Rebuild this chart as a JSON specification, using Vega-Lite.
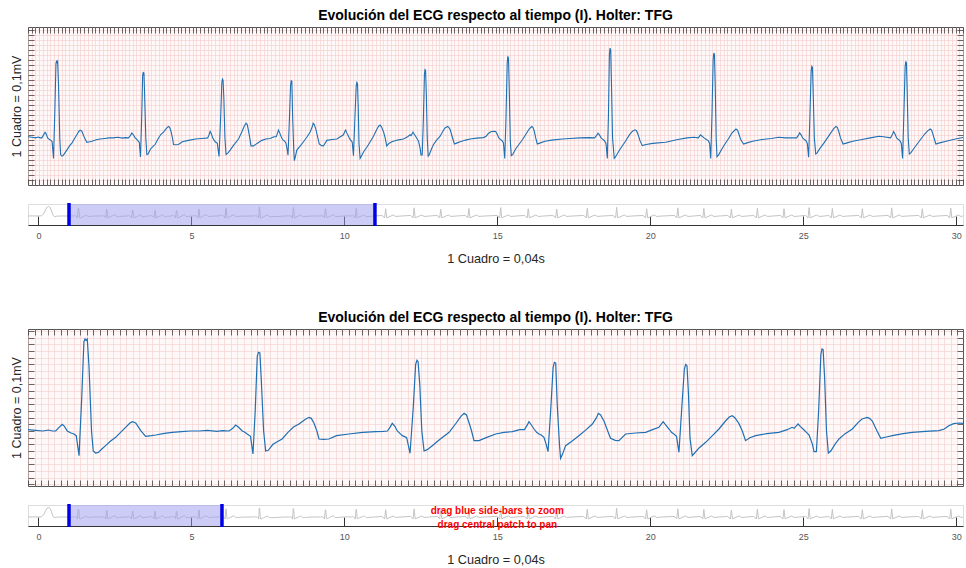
{
"$schema": "https://vega.github.io/schema/vega-lite/v6.json",
"padding": {"left": 10, "top": 8, "right": 0, "bottom": 0},
"config": {"font": "Liberation Sans"},
"datasets": {
"ecg": [
{"t":-340,"v":0.0},{"t":-200,"v":0.02},{"t":0,"v":0.0},{"t":100,"v":0.05},{"t":180,"v":0.45},{"t":240,"v":1.2},{"t":290,"v":1.6},{"t":330,"v":1.7},{"t":380,"v":1.55},{"t":430,"v":0.9},{"t":470,"v":0.2},{"t":520,"v":-0.12},{"t":600,"v":-0.03},{"t":700,"v":0.0},{"t":800,"v":0.01},{"t":900,"v":-0.01},{"t":1000,"v":0.02},
{"t":1040,"v":0.01},{"t":1080,"v":0.0},{"t":1110,"v":0.015},{"t":1130,"v":0.0},{"t":1148,"v":0.0},{"t":1165,"v":0.05},{"t":1183,"v":0.10},{"t":1195,"v":0.07},{"t":1210,"v":0.0},{"t":1230,"v":-0.03},{"t":1246,"v":-0.045},{"t":1258,"v":-0.07},{"t":1273,"v":-0.37},{"t":1287,"v":0.48},{"t":1299,"v":1.34},{"t":1305,"v":1.38},{"t":1311,"v":1.36},{"t":1317,"v":1.38},{"t":1326,"v":0.98},{"t":1340,"v":-0.015},{"t":1349,"v":-0.30},{"t":1362,"v":-0.33},{"t":1376,"v":-0.32},{"t":1395,"v":-0.27},{"t":1415,"v":-0.22},{"t":1442,"v":-0.15},{"t":1469,"v":-0.095},{"t":1495,"v":-0.02},{"t":1522,"v":0.055},{"t":1545,"v":0.12},{"t":1558,"v":0.14},{"t":1576,"v":0.12},{"t":1603,"v":0.005},{"t":1629,"v":-0.08},{"t":1660,"v":-0.07},{"t":1683,"v":-0.06},{"t":1730,"v":-0.035},{"t":1771,"v":-0.02},{"t":1820,"v":-0.01},{"t":1870,"v":0.0},{"t":1914,"v":0.0},{"t":1960,"v":0.01},{"t":2010,"v":-0.005},{"t":2040,"v":0.005},
{"t":2075,"v":0.0},{"t":2095,"v":0.04},{"t":2110,"v":0.09},{"t":2125,"v":0.06},{"t":2146,"v":0.0},{"t":2160,"v":-0.02},{"t":2172,"v":-0.045},{"t":2190,"v":-0.08},{"t":2203,"v":-0.345},{"t":2215,"v":0.3},{"t":2226,"v":1.12},{"t":2232,"v":1.18},{"t":2240,"v":1.17},{"t":2247,"v":0.8},{"t":2260,"v":0.0},{"t":2271,"v":-0.30},{"t":2285,"v":-0.29},{"t":2310,"v":-0.2},{"t":2340,"v":-0.15},{"t":2359,"v":-0.12},{"t":2390,"v":-0.02},{"t":2420,"v":0.06},{"t":2449,"v":0.105},{"t":2480,"v":0.17},{"t":2502,"v":0.205},{"t":2515,"v":0.19},{"t":2529,"v":0.12},{"t":2545,"v":0.0},{"t":2556,"v":-0.12},{"t":2580,"v":-0.125},{"t":2609,"v":-0.12},{"t":2650,"v":-0.07},{"t":2716,"v":-0.045},{"t":2790,"v":-0.02},{"t":2858,"v":-0.01},{"t":2900,"v":-0.005},
{"t":2922,"v":0.0},{"t":2935,"v":0.05},{"t":2948,"v":0.115},{"t":2962,"v":0.07},{"t":2975,"v":0.0},{"t":2990,"v":-0.04},{"t":3002,"v":-0.07},{"t":3025,"v":-0.1},{"t":3043,"v":-0.335},{"t":3060,"v":0.35},{"t":3073,"v":1.0},{"t":3080,"v":1.06},{"t":3086,"v":1.04},{"t":3095,"v":0.7},{"t":3106,"v":0.0},{"t":3118,"v":-0.30},{"t":3135,"v":-0.28},{"t":3162,"v":-0.22},{"t":3200,"v":-0.13},{"t":3252,"v":-0.02},{"t":3290,"v":0.12},{"t":3315,"v":0.22},{"t":3332,"v":0.265},{"t":3345,"v":0.24},{"t":3359,"v":0.12},{"t":3372,"v":0.0},{"t":3385,"v":-0.145},{"t":3412,"v":-0.145},{"t":3450,"v":-0.1},{"t":3501,"v":-0.045},{"t":3545,"v":-0.02},{"t":3590,"v":-0.01},{"t":3630,"v":0.02},{"t":3655,"v":0.02},
{"t":3668,"v":0.08},{"t":3679,"v":0.14},{"t":3692,"v":0.09},{"t":3706,"v":0.03},{"t":3720,"v":-0.02},{"t":3732,"v":-0.045},{"t":3745,"v":-0.06},{"t":3759,"v":-0.095},{"t":3771,"v":-0.2},{"t":3781,"v":-0.31},{"t":3795,"v":0.3},{"t":3808,"v":0.95},{"t":3815,"v":1.03},{"t":3822,"v":1.02},{"t":3830,"v":0.4},{"t":3842,"v":-0.2},{"t":3848,"v":-0.41},{"t":3858,"v":-0.35},{"t":3875,"v":-0.22},{"t":3910,"v":-0.15},{"t":3946,"v":-0.07},{"t":3985,"v":0.02},{"t":4018,"v":0.105},{"t":4040,"v":0.2},{"t":4050,"v":0.265},{"t":4062,"v":0.24},{"t":4080,"v":0.15},{"t":4100,"v":0.0},{"t":4115,"v":-0.11},{"t":4140,"v":-0.14},{"t":4160,"v":-0.145},{"t":4196,"v":-0.045},{"t":4250,"v":-0.03},{"t":4303,"v":-0.02},{"t":4340,"v":0.02},{"t":4374,"v":0.055},
{"t":4385,"v":0.1},{"t":4397,"v":0.14},{"t":4410,"v":0.09},{"t":4428,"v":0.03},{"t":4441,"v":-0.02},{"t":4454,"v":-0.045},{"t":4468,"v":-0.08},{"t":4481,"v":-0.32},{"t":4495,"v":0.3},{"t":4510,"v":0.93},{"t":4517,"v":1.0},{"t":4524,"v":0.98},{"t":4532,"v":0.55},{"t":4540,"v":-0.1},{"t":4552,"v":-0.37},{"t":4565,"v":-0.33},{"t":4590,"v":-0.25},{"t":4624,"v":-0.17},{"t":4660,"v":-0.07},{"t":4695,"v":0.03},{"t":4730,"v":0.15},{"t":4750,"v":0.21},{"t":4766,"v":0.23},{"t":4780,"v":0.2},{"t":4802,"v":0.11},{"t":4820,"v":0.0},{"t":4837,"v":-0.145},{"t":4860,"v":-0.1},{"t":4891,"v":-0.07},{"t":4950,"v":-0.04},{"t":5015,"v":-0.02},{"t":5060,"v":0.02},{"t":5086,"v":0.055},
{"t":5097,"v":0.04},{"t":5110,"v":0.08},{"t":5118,"v":0.105},{"t":5130,"v":0.07},{"t":5150,"v":0.015},{"t":5163,"v":-0.02},{"t":5177,"v":-0.06},{"t":5195,"v":-0.2},{"t":5203,"v":-0.31},{"t":5216,"v":-0.31},{"t":5228,"v":0.3},{"t":5240,"v":1.15},{"t":5246,"v":1.23},{"t":5252,"v":1.22},{"t":5260,"v":0.8},{"t":5270,"v":0.0},{"t":5280,"v":-0.33},{"t":5293,"v":-0.3},{"t":5315,"v":-0.2},{"t":5337,"v":-0.12},{"t":5370,"v":-0.04},{"t":5408,"v":0.03},{"t":5440,"v":0.13},{"t":5460,"v":0.18},{"t":5488,"v":0.205},{"t":5500,"v":0.19},{"t":5515,"v":0.15},{"t":5537,"v":0.02},{"t":5560,"v":-0.11},{"t":5590,"v":-0.09},{"t":5622,"v":-0.07},{"t":5680,"v":-0.04},{"t":5728,"v":-0.02},{"t":5800,"v":-0.005},{"t":5871,"v":0.005},{"t":5900,"v":0.03},{"t":5924,"v":0.08},{"t":5950,"v":0.11},{"t":5978,"v":0.12},
{"t":6002,"v":0.115},{"t":6020,"v":0.06},{"t":6035,"v":0.0},{"t":6055,"v":-0.03},{"t":6070,"v":-0.05},{"t":6085,"v":-0.09},{"t":6099,"v":-0.37},{"t":6112,"v":0.35},{"t":6125,"v":1.35},{"t":6132,"v":1.47},{"t":6139,"v":1.44},{"t":6147,"v":0.9},{"t":6158,"v":-0.05},{"t":6169,"v":-0.32},{"t":6185,"v":-0.3},{"t":6215,"v":-0.2},{"t":6250,"v":-0.12},{"t":6290,"v":-0.03},{"t":6330,"v":0.08},{"t":6360,"v":0.16},{"t":6387,"v":0.205},{"t":6400,"v":0.19},{"t":6415,"v":0.12},{"t":6430,"v":0.0},{"t":6447,"v":-0.11},{"t":6480,"v":-0.09},{"t":6530,"v":-0.06},{"t":6600,"v":-0.04},{"t":6714,"v":-0.02},{"t":6800,"v":-0.01},{"t":6900,"v":0.0},{"t":7000,"v":0.005},
{"t":7060,"v":0.0},{"t":7080,"v":0.04},{"t":7097,"v":0.085},{"t":7113,"v":0.05},{"t":7130,"v":0.0},{"t":7150,"v":-0.03},{"t":7165,"v":-0.05},{"t":7182,"v":-0.1},{"t":7196,"v":-0.37},{"t":7208,"v":0.4},{"t":7218,"v":1.5},{"t":7225,"v":1.62},{"t":7232,"v":1.58},{"t":7240,"v":1.0},{"t":7252,"v":0.0},{"t":7270,"v":-0.37},{"t":7285,"v":-0.34},{"t":7315,"v":-0.25},{"t":7350,"v":-0.16},{"t":7390,"v":-0.06},{"t":7430,"v":0.05},{"t":7465,"v":0.12},{"t":7492,"v":0.145},{"t":7508,"v":0.13},{"t":7525,"v":0.06},{"t":7545,"v":-0.05},{"t":7570,"v":-0.14},{"t":7610,"v":-0.12},{"t":7680,"v":-0.1},{"t":7820,"v":-0.08},{"t":7950,"v":-0.03},{"t":8050,"v":0.0},{"t":8120,"v":0.01},
{"t":8170,"v":0.0},{"t":8191,"v":0.055},{"t":8210,"v":0.03},{"t":8230,"v":0.0},{"t":8255,"v":-0.03},{"t":8275,"v":-0.05},{"t":8290,"v":-0.1},{"t":8302,"v":-0.37},{"t":8315,"v":0.4},{"t":8328,"v":1.42},{"t":8335,"v":1.53},{"t":8342,"v":1.5},{"t":8350,"v":0.95},{"t":8360,"v":0.0},{"t":8369,"v":-0.34},{"t":8385,"v":-0.31},{"t":8415,"v":-0.22},{"t":8450,"v":-0.12},{"t":8490,"v":-0.02},{"t":8530,"v":0.09},{"t":8572,"v":0.16},{"t":8588,"v":0.14},{"t":8605,"v":0.06},{"t":8625,"v":-0.04},{"t":8654,"v":-0.11},{"t":8690,"v":-0.09},{"t":8750,"v":-0.06},{"t":8850,"v":-0.03},{"t":8950,"v":-0.01},{"t":9030,"v":0.01},{"t":9100,"v":0.0},
{"t":9220,"v":0.0},{"t":9237,"v":0.04},{"t":9253,"v":0.09},{"t":9270,"v":0.05},{"t":9285,"v":0.0},{"t":9305,"v":-0.03},{"t":9320,"v":-0.05},{"t":9335,"v":-0.1},{"t":9349,"v":-0.35},{"t":9362,"v":0.35},{"t":9376,"v":1.2},{"t":9383,"v":1.29},{"t":9390,"v":1.27},{"t":9398,"v":0.8},{"t":9410,"v":0.0},{"t":9425,"v":-0.29},{"t":9440,"v":-0.27},{"t":9470,"v":-0.19},{"t":9510,"v":-0.1},{"t":9550,"v":0.0},{"t":9590,"v":0.1},{"t":9620,"v":0.17},{"t":9642,"v":0.205},{"t":9656,"v":0.19},{"t":9672,"v":0.11},{"t":9690,"v":0.0},{"t":9717,"v":-0.11},{"t":9760,"v":-0.09},{"t":9820,"v":-0.06},{"t":9920,"v":-0.03},{"t":10010,"v":0.0},{"t":10100,"v":0.03},{"t":10150,"v":0.02},
{"t":10225,"v":0.0},{"t":10242,"v":0.05},{"t":10258,"v":0.115},{"t":10275,"v":0.06},{"t":10290,"v":0.0},{"t":10310,"v":-0.03},{"t":10325,"v":-0.05},{"t":10340,"v":-0.1},{"t":10354,"v":-0.37},{"t":10367,"v":0.4},{"t":10381,"v":1.28},{"t":10388,"v":1.38},{"t":10395,"v":1.35},{"t":10403,"v":0.85},{"t":10414,"v":0.0},{"t":10426,"v":-0.29},{"t":10442,"v":-0.27},{"t":10470,"v":-0.2},{"t":10510,"v":-0.11},{"t":10550,"v":-0.02},{"t":10590,"v":0.07},{"t":10625,"v":0.13},{"t":10650,"v":0.16},{"t":10664,"v":0.14},{"t":10680,"v":0.06},{"t":10695,"v":-0.03},{"t":10710,"v":-0.11},{"t":10750,"v":-0.09},{"t":10820,"v":-0.06},{"t":10920,"v":-0.02},{"t":11010,"v":0.01},
{"t":11225,"v":0.1},{"t":11260,"v":0.0},{"t":11315,"v":-0.35},{"t":11350,"v":1.3},{"t":11385,"v":-0.32},{"t":11600,"v":0.18},{"t":11680,"v":-0.08},{"t":11850,"v":0.0},
{"t":12155,"v":0.1},{"t":12190,"v":0.0},{"t":12245,"v":-0.35},{"t":12280,"v":1.45},{"t":12315,"v":-0.32},{"t":12530,"v":0.18},{"t":12610,"v":-0.08},{"t":12780,"v":0.0},
{"t":13025,"v":0.1},{"t":13060,"v":0.0},{"t":13115,"v":-0.35},{"t":13150,"v":1.2},{"t":13185,"v":-0.32},{"t":13400,"v":0.18},{"t":13480,"v":-0.08},{"t":13650,"v":0.0},
{"t":13945,"v":0.1},{"t":13980,"v":0.0},{"t":14035,"v":-0.35},{"t":14070,"v":1.35},{"t":14105,"v":-0.32},{"t":14320,"v":0.18},{"t":14400,"v":-0.08},{"t":14570,"v":0.0},
{"t":14985,"v":0.1},{"t":15020,"v":0.0},{"t":15075,"v":-0.35},{"t":15110,"v":1.5},{"t":15145,"v":-0.32},{"t":15360,"v":0.18},{"t":15440,"v":-0.08},{"t":15610,"v":0.0},
{"t":15885,"v":0.1},{"t":15920,"v":0.0},{"t":15975,"v":-0.35},{"t":16010,"v":1.3},{"t":16045,"v":-0.32},{"t":16260,"v":0.18},{"t":16340,"v":-0.08},{"t":16510,"v":0.0},
{"t":16815,"v":0.1},{"t":16850,"v":0.0},{"t":16905,"v":-0.35},{"t":16940,"v":1.25},{"t":16975,"v":-0.32},{"t":17190,"v":0.18},{"t":17270,"v":-0.08},{"t":17440,"v":0.0},
{"t":17815,"v":0.1},{"t":17850,"v":0.0},{"t":17905,"v":-0.35},{"t":17940,"v":1.4},{"t":17975,"v":-0.32},{"t":18190,"v":0.18},{"t":18270,"v":-0.08},{"t":18440,"v":0.0},
{"t":18775,"v":0.1},{"t":18810,"v":0.0},{"t":18865,"v":-0.35},{"t":18900,"v":1.55},{"t":18935,"v":-0.32},{"t":19150,"v":0.18},{"t":19230,"v":-0.08},{"t":19400,"v":0.0},
{"t":19755,"v":0.1},{"t":19790,"v":0.0},{"t":19845,"v":-0.35},{"t":19880,"v":1.3},{"t":19915,"v":-0.32},{"t":20130,"v":0.18},{"t":20210,"v":-0.08},{"t":20380,"v":0.0},
{"t":20775,"v":0.1},{"t":20810,"v":0.0},{"t":20865,"v":-0.35},{"t":20900,"v":1.45},{"t":20935,"v":-0.32},{"t":21150,"v":0.18},{"t":21230,"v":-0.08},{"t":21400,"v":0.0},
{"t":21625,"v":0.1},{"t":21660,"v":0.0},{"t":21715,"v":-0.35},{"t":21750,"v":1.35},{"t":21785,"v":-0.32},{"t":22000,"v":0.18},{"t":22080,"v":-0.08},{"t":22250,"v":0.0},
{"t":22525,"v":0.1},{"t":22560,"v":0.0},{"t":22615,"v":-0.35},{"t":22650,"v":1.25},{"t":22685,"v":-0.32},{"t":22900,"v":0.18},{"t":22980,"v":-0.08},{"t":23150,"v":0.0},
{"t":23375,"v":0.1},{"t":23410,"v":0.0},{"t":23465,"v":-0.35},{"t":23500,"v":1.4},{"t":23535,"v":-0.32},{"t":23750,"v":0.18},{"t":23830,"v":-0.08},{"t":24000,"v":0.0},
{"t":24245,"v":0.1},{"t":24280,"v":0.0},{"t":24335,"v":-0.35},{"t":24370,"v":1.3},{"t":24405,"v":-0.32},{"t":24620,"v":0.18},{"t":24700,"v":-0.08},{"t":24870,"v":0.0},
{"t":25065,"v":0.1},{"t":25100,"v":0.0},{"t":25155,"v":-0.35},{"t":25190,"v":1.5},{"t":25225,"v":-0.32},{"t":25440,"v":0.18},{"t":25520,"v":-0.08},{"t":25690,"v":0.0},
{"t":25825,"v":0.1},{"t":25860,"v":0.0},{"t":25915,"v":-0.35},{"t":25950,"v":1.35},{"t":25985,"v":-0.32},{"t":26200,"v":0.18},{"t":26280,"v":-0.08},{"t":26450,"v":0.0},
{"t":26805,"v":0.1},{"t":26840,"v":0.0},{"t":26895,"v":-0.35},{"t":26930,"v":1.3},{"t":26965,"v":-0.32},{"t":27180,"v":0.18},{"t":27260,"v":-0.08},{"t":27430,"v":0.0},
{"t":27765,"v":0.1},{"t":27800,"v":0.0},{"t":27855,"v":-0.35},{"t":27890,"v":1.45},{"t":27925,"v":-0.32},{"t":28140,"v":0.18},{"t":28220,"v":-0.08},{"t":28390,"v":0.0},
{"t":28765,"v":0.1},{"t":28800,"v":0.0},{"t":28855,"v":-0.35},{"t":28890,"v":1.3},{"t":28925,"v":-0.32},{"t":29140,"v":0.18},{"t":29220,"v":-0.08},{"t":29390,"v":0.0},
{"t":29695,"v":0.1},{"t":29730,"v":0.0},{"t":29785,"v":-0.35},{"t":29820,"v":1.4},{"t":29855,"v":-0.32},{"t":30070,"v":0.18},{"t":30150,"v":-0.08},{"t":30220,"v":0.0}
],
"selTop": [{"a": 1000, "b": 11000}],
"selBot": [{"a": 1000, "b": 6000}],
"hint": [{"label": "hint"}]
},
"spacing": 44,
"vconcat": [
{"spacing": 14, "vconcat": [
 {"width": 935, "height": 158,
  "title": {"text": "Evolución del ECG respecto al tiempo (I). Holter: TFG", "fontSize": 14, "fontWeight": "bold", "color": "#000000", "offset": 4, "anchor": "middle"},
  "view": {"fill": "#fff8f8", "stroke": "#555555"},
  "data": {"name": "ecg"},
  "layer": [
   {"mark": {"type": "line", "color": "#1f6fb3", "strokeWidth": 1.1, "clip": true},
    "encoding": {
     "x": {"field": "t", "type": "quantitative", "scale": {"domain": [1000, 11000], "nice": false, "zero": false},
      "axis": {"orient": "bottom", "title": null, "labels": false, "domain": false, "values": [1000,1040,1080,1120,1160,1200,1240,1280,1320,1360,1400,1440,1480,1520,1560,1600,1640,1680,1720,1760,1800,1840,1880,1920,1960,2000,2040,2080,2120,2160,2200,2240,2280,2320,2360,2400,2440,2480,2520,2560,2600,2640,2680,2720,2760,2800,2840,2880,2920,2960,3000,3040,3080,3120,3160,3200,3240,3280,3320,3360,3400,3440,3480,3520,3560,3600,3640,3680,3720,3760,3800,3840,3880,3920,3960,4000,4040,4080,4120,4160,4200,4240,4280,4320,4360,4400,4440,4480,4520,4560,4600,4640,4680,4720,4760,4800,4840,4880,4920,4960,5000,5040,5080,5120,5160,5200,5240,5280,5320,5360,5400,5440,5480,5520,5560,5600,5640,5680,5720,5760,5800,5840,5880,5920,5960,6000,6040,6080,6120,6160,6200,6240,6280,6320,6360,6400,6440,6480,6520,6560,6600,6640,6680,6720,6760,6800,6840,6880,6920,6960,7000,7040,7080,7120,7160,7200,7240,7280,7320,7360,7400,7440,7480,7520,7560,7600,7640,7680,7720,7760,7800,7840,7880,7920,7960,8000,8040,8080,8120,8160,8200,8240,8280,8320,8360,8400,8440,8480,8520,8560,8600,8640,8680,8720,8760,8800,8840,8880,8920,8960,9000,9040,9080,9120,9160,9200,9240,9280,9320,9360,9400,9440,9480,9520,9560,9600,9640,9680,9720,9760,9800,9840,9880,9920,9960,10000,10040,10080,10120,10160,10200,10240,10280,10320,10360,10400,10440,10480,10520,10560,10600,10640,10680,10720,10760,10800,10840,10880,10920,10960,11000], "tickSize": -6, "tickColor": "#444444", "tickWidth": 0.8, "grid": true, "gridColor": "#f5cccc", "gridWidth": 0.6}},
     "y": {"field": "v", "type": "quantitative", "scale": {"domain": [-0.85, 2.0], "nice": false, "zero": false},
      "axis": {"orient": "left", "title": "1 Cuadro = 0,1mV", "titleFontSize": 12.5, "titleFontWeight": "normal", "titleColor": "#262626", "titlePadding": 4, "labels": false, "domain": false, "values": [-0.76,-0.67,-0.58,-0.49,-0.4,-0.31,-0.22,-0.13,-0.04,0.05,0.14,0.23,0.32,0.41,0.5,0.59,0.68,0.77,0.86,0.95,1.04,1.13,1.22,1.31,1.4,1.49,1.58,1.67,1.76,1.85,1.94], "tickSize": -6, "tickColor": "#444444", "tickWidth": 0.8, "grid": true, "gridColor": "#f5cccc", "gridWidth": 0.6}}
    }},
   {"mark": {"type": "line", "strokeOpacity": 0, "clip": true},
    "encoding": {
     "x": {"field": "t", "type": "quantitative",
      "axis": {"orient": "top", "title": null, "labels": false, "domain": false, "values": [1000,1040,1080,1120,1160,1200,1240,1280,1320,1360,1400,1440,1480,1520,1560,1600,1640,1680,1720,1760,1800,1840,1880,1920,1960,2000,2040,2080,2120,2160,2200,2240,2280,2320,2360,2400,2440,2480,2520,2560,2600,2640,2680,2720,2760,2800,2840,2880,2920,2960,3000,3040,3080,3120,3160,3200,3240,3280,3320,3360,3400,3440,3480,3520,3560,3600,3640,3680,3720,3760,3800,3840,3880,3920,3960,4000,4040,4080,4120,4160,4200,4240,4280,4320,4360,4400,4440,4480,4520,4560,4600,4640,4680,4720,4760,4800,4840,4880,4920,4960,5000,5040,5080,5120,5160,5200,5240,5280,5320,5360,5400,5440,5480,5520,5560,5600,5640,5680,5720,5760,5800,5840,5880,5920,5960,6000,6040,6080,6120,6160,6200,6240,6280,6320,6360,6400,6440,6480,6520,6560,6600,6640,6680,6720,6760,6800,6840,6880,6920,6960,7000,7040,7080,7120,7160,7200,7240,7280,7320,7360,7400,7440,7480,7520,7560,7600,7640,7680,7720,7760,7800,7840,7880,7920,7960,8000,8040,8080,8120,8160,8200,8240,8280,8320,8360,8400,8440,8480,8520,8560,8600,8640,8680,8720,8760,8800,8840,8880,8920,8960,9000,9040,9080,9120,9160,9200,9240,9280,9320,9360,9400,9440,9480,9520,9560,9600,9640,9680,9720,9760,9800,9840,9880,9920,9960,10000,10040,10080,10120,10160,10200,10240,10280,10320,10360,10400,10440,10480,10520,10560,10600,10640,10680,10720,10760,10800,10840,10880,10920,10960,11000], "tickSize": -6, "tickColor": "#444444", "tickWidth": 0.8, "grid": false}},
     "y": {"field": "v", "type": "quantitative",
      "axis": {"orient": "right", "title": null, "labels": false, "domain": false, "values": [-0.76,-0.67,-0.58,-0.49,-0.4,-0.31,-0.22,-0.13,-0.04,0.05,0.14,0.23,0.32,0.41,0.5,0.59,0.68,0.77,0.86,0.95,1.04,1.13,1.22,1.31,1.4,1.49,1.58,1.67,1.76,1.85,1.94], "tickSize": -6, "tickColor": "#444444", "tickWidth": 0.8, "grid": false}}
    }}
  ],
  "resolve": {"axis": {"x": "independent", "y": "independent"}}
 },
 {"width": 935, "height": 21,
  "view": {"stroke": "#dddddd"},
  "encoding": {
   "x": {"type": "quantitative", "scale": {"domain": [-340, 30220], "nice": false, "zero": false},
    "axis": {"title": "1 Cuadro = 0,04s", "titleFontSize": 12.7, "titleFontWeight": "normal", "titleColor": "#262626", "titlePadding": 12, "values": [0,5000,10000,15000,20000,25000,30000], "labelExpr": "format(datum.value/1000, 'd')", "labelFontSize": 9, "labelColor": "#555555", "labelPadding": 15, "labelFlush": false, "tickSize": -9, "tickColor": "#333333", "tickWidth": 1, "domainColor": "#333333", "domainWidth": 1.2, "grid": false}}
  },
  "layer": [
   {"data": {"name": "ecg"}, "mark": {"type": "line", "color": "#c4c4c4", "strokeWidth": 1, "clip": true},
    "encoding": {
     "x": {"field": "t"},
     "y": {"field": "v", "type": "quantitative", "scale": {"domain": [-1.6, 2.14], "nice": false, "zero": false}, "axis": null}
    }},
   {"data": {"name": "selTop"}, "mark": {"type": "rect", "color": "#9a9af0", "opacity": 0.5},
    "encoding": {"x": {"field": "a"}, "x2": {"field": "b"}}},
   {"data": {"name": "selTop"}, "mark": {"type": "rule", "color": "#0000e6", "strokeWidth": 3.5},
    "encoding": {"x": {"field": "a"}, "y": {"datum": 2.32}, "y2": {"datum": -1.78}}},
   {"data": {"name": "selTop"}, "mark": {"type": "rule", "color": "#0000e6", "strokeWidth": 3.5},
    "encoding": {"x": {"field": "b"}, "y": {"datum": 2.32}, "y2": {"datum": -1.78}}}
  ]
 }
]},
{"spacing": 14, "vconcat": [
 {"width": 935, "height": 157,
  "title": {"text": "Evolución del ECG respecto al tiempo (I). Holter: TFG", "fontSize": 14, "fontWeight": "bold", "color": "#000000", "offset": 4, "anchor": "middle"},
  "view": {"fill": "#fff8f8", "stroke": "#555555"},
  "data": {"name": "ecg"},
  "layer": [
   {"mark": {"type": "line", "color": "#1f6fb3", "strokeWidth": 1.2, "clip": true},
    "encoding": {
     "x": {"field": "t", "type": "quantitative", "scale": {"domain": [1000, 6000], "nice": false, "zero": false},
      "axis": {"orient": "bottom", "title": null, "labels": false, "domain": false, "values": [1000,1035,1070,1105,1140,1175,1210,1245,1280,1315,1350,1385,1420,1455,1490,1525,1560,1595,1630,1665,1700,1735,1770,1805,1840,1875,1910,1945,1980,2015,2050,2085,2120,2155,2190,2225,2260,2295,2330,2365,2400,2435,2470,2505,2540,2575,2610,2645,2680,2715,2750,2785,2820,2855,2890,2925,2960,2995,3030,3065,3100,3135,3170,3205,3240,3275,3310,3345,3380,3415,3450,3485,3520,3555,3590,3625,3660,3695,3730,3765,3800,3835,3870,3905,3940,3975,4010,4045,4080,4115,4150,4185,4220,4255,4290,4325,4360,4395,4430,4465,4500,4535,4570,4605,4640,4675,4710,4745,4780,4815,4850,4885,4920,4955,4990,5025,5060,5095,5130,5165,5200,5235,5270,5305,5340,5375,5410,5445,5480,5515,5550,5585,5620,5655,5690,5725,5760,5795,5830,5865,5900,5935,5970], "tickSize": -6, "tickColor": "#444444", "tickWidth": 0.8, "grid": true, "gridColor": "#f5cccc", "gridWidth": 0.6}},
     "y": {"field": "v", "type": "quantitative", "scale": {"domain": [-0.825, 1.53], "nice": false, "zero": false},
      "axis": {"orient": "left", "title": "1 Cuadro = 0,1mV", "titleFontSize": 12.5, "titleFontWeight": "normal", "titleColor": "#262626", "titlePadding": 4, "labels": false, "domain": false, "values": [-0.8,-0.7,-0.6,-0.5,-0.4,-0.3,-0.2,-0.1,0,0.1,0.2,0.3,0.4,0.5,0.6,0.7,0.8,0.9,1.0,1.1,1.2,1.3,1.4,1.5], "tickSize": -6, "tickColor": "#444444", "tickWidth": 0.8, "grid": true, "gridColor": "#f5cccc", "gridWidth": 0.6}}
    }},
   {"mark": {"type": "line", "strokeOpacity": 0, "clip": true},
    "encoding": {
     "x": {"field": "t", "type": "quantitative",
      "axis": {"orient": "top", "title": null, "labels": false, "domain": false, "values": [1000,1035,1070,1105,1140,1175,1210,1245,1280,1315,1350,1385,1420,1455,1490,1525,1560,1595,1630,1665,1700,1735,1770,1805,1840,1875,1910,1945,1980,2015,2050,2085,2120,2155,2190,2225,2260,2295,2330,2365,2400,2435,2470,2505,2540,2575,2610,2645,2680,2715,2750,2785,2820,2855,2890,2925,2960,2995,3030,3065,3100,3135,3170,3205,3240,3275,3310,3345,3380,3415,3450,3485,3520,3555,3590,3625,3660,3695,3730,3765,3800,3835,3870,3905,3940,3975,4010,4045,4080,4115,4150,4185,4220,4255,4290,4325,4360,4395,4430,4465,4500,4535,4570,4605,4640,4675,4710,4745,4780,4815,4850,4885,4920,4955,4990,5025,5060,5095,5130,5165,5200,5235,5270,5305,5340,5375,5410,5445,5480,5515,5550,5585,5620,5655,5690,5725,5760,5795,5830,5865,5900,5935,5970], "tickSize": -6, "tickColor": "#444444", "tickWidth": 0.8, "grid": false}},
     "y": {"field": "v", "type": "quantitative",
      "axis": {"orient": "right", "title": null, "labels": false, "domain": false, "values": [-0.8,-0.7,-0.6,-0.5,-0.4,-0.3,-0.2,-0.1,0,0.1,0.2,0.3,0.4,0.5,0.6,0.7,0.8,0.9,1.0,1.1,1.2,1.3,1.4,1.5], "tickSize": -6, "tickColor": "#444444", "tickWidth": 0.8, "grid": false}}
    }}
  ],
  "resolve": {"axis": {"x": "independent", "y": "independent"}}
 },
 {"width": 935, "height": 21,
  "view": {"stroke": "#dddddd"},
  "encoding": {
   "x": {"type": "quantitative", "scale": {"domain": [-340, 30220], "nice": false, "zero": false},
    "axis": {"title": "1 Cuadro = 0,04s", "titleFontSize": 12.7, "titleFontWeight": "normal", "titleColor": "#262626", "titlePadding": 12, "values": [0,5000,10000,15000,20000,25000,30000], "labelExpr": "format(datum.value/1000, 'd')", "labelFontSize": 9, "labelColor": "#555555", "labelPadding": 15, "labelFlush": false, "tickSize": -9, "tickColor": "#333333", "tickWidth": 1, "domainColor": "#333333", "domainWidth": 1.2, "grid": false}}
  },
  "layer": [
   {"data": {"name": "ecg"}, "mark": {"type": "line", "color": "#c4c4c4", "strokeWidth": 1, "clip": true},
    "encoding": {
     "x": {"field": "t"},
     "y": {"field": "v", "type": "quantitative", "scale": {"domain": [-1.6, 2.14], "nice": false, "zero": false}, "axis": null}
    }},
   {"data": {"name": "selBot"}, "mark": {"type": "rect", "color": "#9a9af0", "opacity": 0.5},
    "encoding": {"x": {"field": "a"}, "x2": {"field": "b"}}},
   {"data": {"name": "selBot"}, "mark": {"type": "rule", "color": "#0000e6", "strokeWidth": 3.5},
    "encoding": {"x": {"field": "a"}, "y": {"datum": 2.32}, "y2": {"datum": -1.78}}},
   {"data": {"name": "selBot"}, "mark": {"type": "rule", "color": "#0000e6", "strokeWidth": 3.5},
    "encoding": {"x": {"field": "b"}, "y": {"datum": 2.32}, "y2": {"datum": -1.78}}},
   {"data": {"name": "hint"}, "mark": {"type": "text", "text": ["drag blue side-bars to zoom", "drag central patch to pan"], "color": "#ff0000", "fontWeight": "bold", "fontSize": 10, "lineHeight": 14, "baseline": "middle", "align": "center", "dy": -5},
    "encoding": {"x": {"datum": 15000}}}
  ]
 }
]}
]
}
